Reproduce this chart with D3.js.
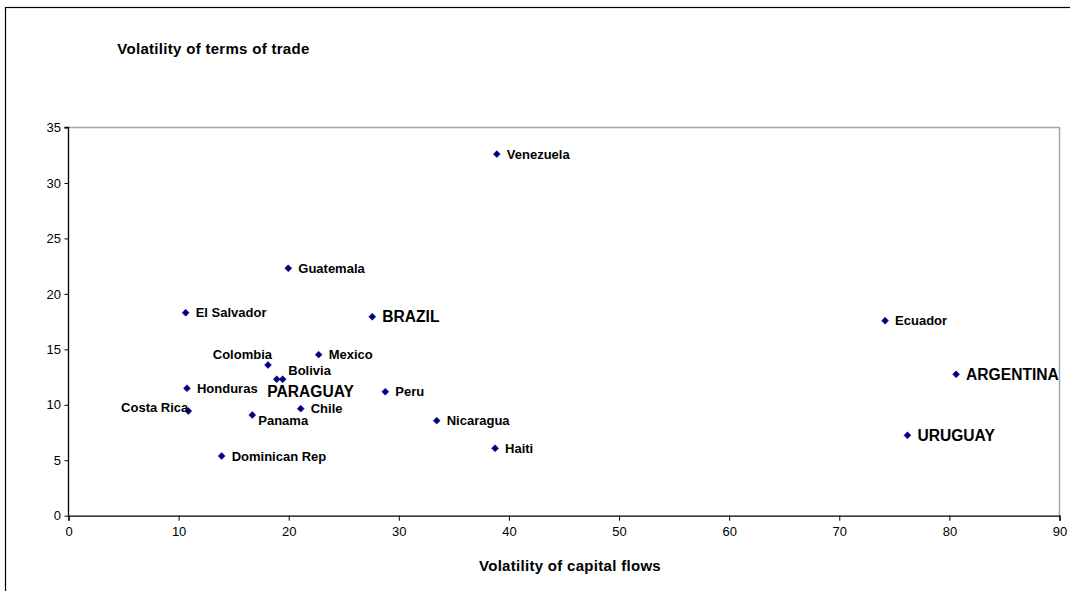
<!DOCTYPE html>
<html>
<head>
<meta charset="utf-8">
<script src="https://cdn.jsdelivr.net/npm/d3@7"></script>
<style>
  html, body { margin: 0; padding: 0; background: #fff; }
  svg { display: block; font-family: "Liberation Sans", Arial, Helvetica, sans-serif; }
</style>
</head>
<body>
<svg id="chart" width="1070" height="591"></svg>
<script>
// ---- data ----
const countries = ["Venezuela","Guatemala","El Salvador","BRAZIL","Ecuador","Mexico","Colombia","Bolivia","PARAGUAY","Honduras","Peru","ARGENTINA","Costa Rica","Chile","Panama","Nicaragua","URUGUAY","Haiti","Dominican Rep"];
const capitalFlowsVol = [38.9,19.96,10.64,27.59,74.16,22.72,18.12,19.45,18.91,10.76,28.77,80.61,10.88,21.09,16.69,33.44,76.19,38.74,13.91];
const termsOfTradeVol = [32.6,22.31,18.3,17.94,17.58,14.52,13.59,12.3,12.3,11.49,11.18,12.75,9.44,9.65,9.08,8.57,7.25,6.08,5.38];
const highlighted = ["BRAZIL","PARAGUAY","ARGENTINA","URUGUAY"];
const xTicks = [0,10,20,30,40,50,60,70,80,90];
const yTicks = [0,5,10,15,20,25,30,35];
const chartTitle = "Volatility of terms of trade";
const xTitle = "Volatility of capital flows";

// ---- label placement (style, not data) ----
const labelPlace = {
  "Colombia":   {dx: 4,  dy: -10.5, anchor: "end"},
  "Costa Rica": {dx: 0,  dy: -3.7,  anchor: "end"},
  "PARAGUAY":   {dx: -9.5, dy: 12.4, anchor: "start"},
  "Bolivia":    {dx: 5.6, dy: -8.6, anchor: "start"},
  "Panama":     {dx: 6,  dy: 5.7, anchor: "start"}
};

const svg = d3.select("#chart");
const W = 1070, H = 591;

// outer border (extends past right/bottom edge)
svg.append("rect").attr("x", 5.5).attr("y", 7.5).attr("width", W).attr("height", H)
  .attr("fill", "none").attr("stroke", "#000").attr("stroke-width", 1.2);

const x = d3.scaleLinear().domain([0, 90]).range([68.5, 1059.5]);
const y = d3.scaleLinear().domain([0, 35]).range([515.7, 127.5]);

// plot area border (top/right grey)
svg.append("path")
  .attr("d", `M${x(0)},${y(35)}H${x(90)}V${y(0)}`)
  .attr("fill", "none").attr("stroke", "#a6a6a6").attr("stroke-width", 1.5);

// axes
const xAxis = d3.axisBottom(x).tickValues(xTicks).tickSize(5).tickPadding(6).tickFormat(d3.format("d"));
const yAxis = d3.axisLeft(y).tickValues(yTicks).tickSize(4).tickPadding(3.5).tickFormat(d3.format("d"));

const gx = svg.append("g").attr("transform", `translate(0,${y(0)})`).call(xAxis);
const gy = svg.append("g").attr("transform", `translate(${x(0)},0)`).call(yAxis);
[gx, gy].forEach(g => {
  g.select(".domain").attr("stroke", "#000").attr("stroke-width", 1.3);
  g.selectAll(".tick line").attr("stroke", "#000").attr("stroke-width", 1);
  g.selectAll(".tick text").attr("fill", "#000").style("font-size", "13px")
    .style("font-family", "'Liberation Sans', Arial, sans-serif");
});
gy.select(".domain").attr("d", `M-4,${y(35)}H0V${y(0)}`);

// titles
svg.append("text").attr("x", 117.3).attr("y", 54.3)
  .attr("font-weight", "bold").attr("font-size", "15px").attr("letter-spacing", "0.3px").attr("fill", "#000")
  .text(chartTitle);
svg.append("text").attr("x", 570).attr("y", 570.5).attr("text-anchor", "middle")
  .attr("font-weight", "bold").attr("font-size", "15px").attr("letter-spacing", "0.3px").attr("fill", "#000")
  .text(xTitle);

// points
const data = countries.map((c, i) => ({name: c, xv: capitalFlowsVol[i], yv: termsOfTradeVol[i]}));
const diamond = d3.symbol().type(d3.symbolDiamond2).size(30);

svg.append("g").selectAll("path").data(data).join("path")
  .attr("transform", d => `translate(${x(d.xv)},${y(d.yv)})`)
  .attr("d", diamond)
  .attr("fill", "#000080").attr("stroke", "#000080").attr("stroke-width", 0.6);

svg.append("g").selectAll("text").data(data).join("text")
  .attr("x", d => x(d.xv) + (labelPlace[d.name] ? labelPlace[d.name].dx : 10))
  .attr("y", d => y(d.yv) + (labelPlace[d.name] ? labelPlace[d.name].dy : 0))
  .attr("dy", "0.36em")
  .attr("text-anchor", d => labelPlace[d.name] ? labelPlace[d.name].anchor : "start")
  .attr("font-weight", "bold")
  .attr("font-size", d => highlighted.includes(d.name) ? "15.6px" : "13px")
  .attr("fill", "#000")
  .text(d => d.name);
</script>
</body>
</html>
